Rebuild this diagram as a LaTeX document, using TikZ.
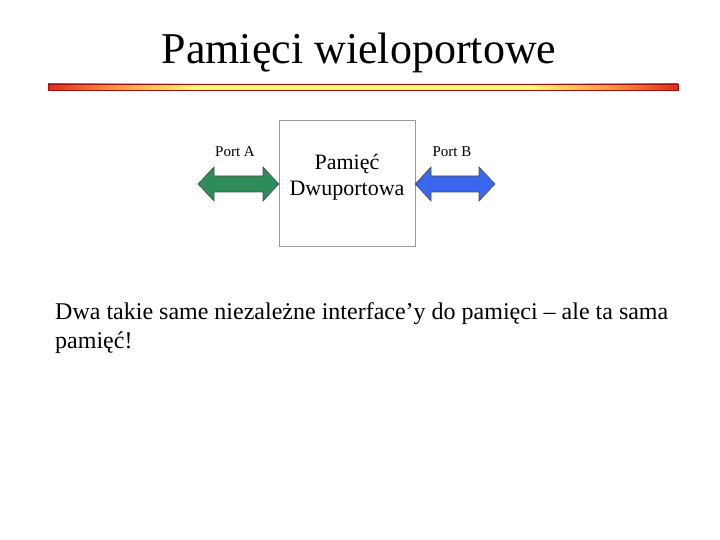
\documentclass[tikz,border=0pt]{standalone}
\usepackage{fontspec}
\setmainfont{Liberation Serif}
\usepackage{tikz}
\usetikzlibrary{positioning,calc}

\definecolor{portgreen}{HTML}{2E8B5A}
\definecolor{portblue}{HTML}{3A66F0}
\definecolor{bardark}{HTML}{A01010}
\definecolor{barred}{HTML}{E02A1A}
\definecolor{barorange}{HTML}{F7903A}
\definecolor{baryellow}{HTML}{FFFF70}
\pgfdeclarehorizontalshading{titlebar}{100bp}{color(0bp)=(barred); color(25bp)=(barred);
  color(30bp)=(barorange); color(37bp)=(baryellow); color(63bp)=(baryellow);
  color(70bp)=(barorange); color(75bp)=(barred); color(100bp)=(barred)}

\tikzset{
  membox/.style={draw=gray!80, minimum width=136pt, minimum height=126pt},
  memtext/.style={align=center, font=\fontsize{22}{26}\selectfont},
  portlabel/.style={font=\fontsize{15}{18}\selectfont},
  busarrow/.style={draw=black!70, line width=0.6pt, line join=miter}
}

\begin{document}
\begin{tikzpicture}[x=1pt,y=-1pt]
  \useasboundingbox (0,0) rectangle (720,540);

  % Title and bar
  \node[anchor=base, font=\fontsize{44}{52}\selectfont] (title) at (359,64) {Pamięci wieloportowe};
  \shade[shading=titlebar] (48,84) rectangle (678,90);
  \draw[bardark, line width=0.8pt] (48,84) rectangle (678,90);

  % Memory
  \node[membox] (mem) at (347,183) {};
  \node[memtext] (memlabel) at (347,177) {Pamięć\\Dwuportowa};

  % Ports
  \fill[portgreen] (198,184) -- (214,167) -- (214,176) -- (263,176) -- (263,167)
    -- (mem.west |- 0,184) -- (263,201) -- (263,192) -- (214,192) -- (214,201) -- cycle;
  \draw[busarrow] (198,184) -- (214,167) -- (214,176) -- (263,176) -- (263,167)
    -- (mem.west |- 0,184) -- (263,201) -- (263,192) -- (214,192) -- (214,201) -- cycle;
  \fill[portblue] (mem.east |- 0,184) -- (431,167) -- (431,176) -- (479,176) -- (479,167)
    -- (495,184) -- (479,201) -- (479,192) -- (431,192) -- (431,201) -- cycle;
  \draw[busarrow] (mem.east |- 0,184) -- (431,167) -- (431,176) -- (479,176) -- (479,167)
    -- (495,184) -- (479,201) -- (479,192) -- (431,192) -- (431,201) -- cycle;
  \node[portlabel] (portA) at (235,152) {Port A};
  \node[portlabel] (portB) at (452,152) {Port B};

  % Caption
  \node[anchor=north west, align=left, inner sep=0pt, font=\fontsize{24}{29}\selectfont] (note) at (55,302)
    {Dwa takie same niezależne interface’y do pamięci – ale ta sama\\pamięć!};
\end{tikzpicture}
\end{document}
